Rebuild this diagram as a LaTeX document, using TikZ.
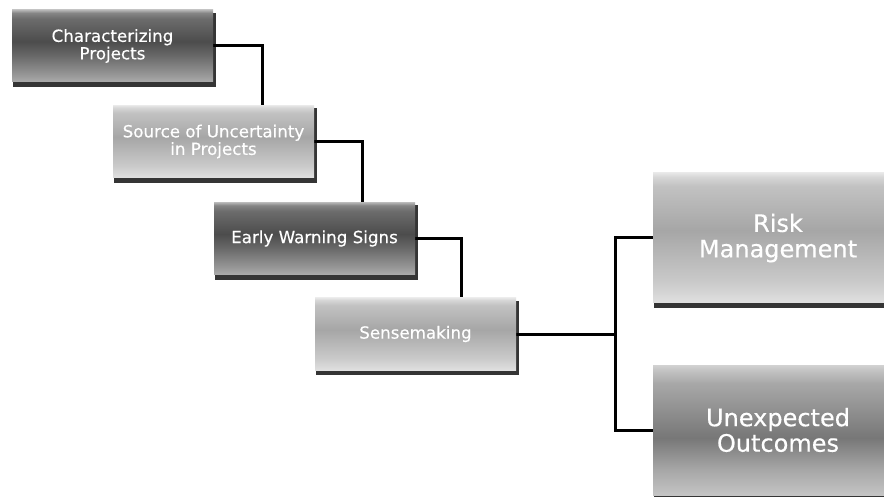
\documentclass[tikz,border=0pt]{standalone}
\usepackage{fontspec}
\newfontfamily\boxfont[FakeBold=0.4]{DejaVu Sans}
\usetikzlibrary{backgrounds}
\definecolor{bdA}{HTML}{ABABAB}
\definecolor{bdB}{HTML}{979797}
\definecolor{bdC}{HTML}{666666}
\definecolor{bdD}{HTML}{4C4C4C}
\definecolor{bdE}{HTML}{6C6C6C}
\definecolor{bdF}{HTML}{868686}
\definecolor{bdG}{HTML}{B4B4B4}
\definecolor{blA}{HTML}{E0E0E0}
\definecolor{blB}{HTML}{CACACA}
\definecolor{blC}{HTML}{A6A6A6}
\definecolor{blD}{HTML}{C2C2C2}
\definecolor{blE}{HTML}{D6D6D6}
\definecolor{blF}{HTML}{E6E6E6}
\definecolor{bmA}{HTML}{C4C4C4}
\definecolor{bmB}{HTML}{A6A6A6}
\definecolor{bmC}{HTML}{777777}
\definecolor{bmD}{HTML}{A8A8A8}
\definecolor{bmE}{HTML}{C6C6C6}
\definecolor{bmF}{HTML}{D2D2D2}
\definecolor{shadowc}{HTML}{353535}
\pgfdeclareverticalshading{darkshade}{100bp}{%
  color(0bp)=(bdA); color(25bp)=(bdA); color(30bp)=(bdB); color(44bp)=(bdC);
  color(53bp)=(bdD); color(69bp)=(bdE); color(73bp)=(bdF); color(75bp)=(bdG); color(100bp)=(bdG)}
\pgfdeclareverticalshading{lightshade}{100bp}{%
  color(0bp)=(blA); color(25bp)=(blA); color(33bp)=(blB); color(53bp)=(blC);
  color(70bp)=(blD); color(73.5bp)=(blE); color(75bp)=(blF); color(100bp)=(blF)}
\pgfdeclareverticalshading{medshade}{100bp}{%
  color(0bp)=(bmA); color(25bp)=(bmA); color(35bp)=(bmB); color(47bp)=(bmC);
  color(68bp)=(bmD); color(73.5bp)=(bmE); color(75bp)=(bmF); color(100bp)=(bmF)}
\begin{document}
\begin{tikzpicture}[x=1pt,y=-1pt,
  basebox/.style={rectangle, inner sep=0pt, text=white, align=center},
  smallbox/.style={basebox, minimum width=201pt, minimum height=72pt,
    font=\boxfont\fontsize{16.7}{17.5}\selectfont},
  bigbox/.style={basebox, minimum width=250pt, minimum height=130pt,
    font=\boxfont\fontsize{24}{25.5}\selectfont},
  darkbox/.style={shading=darkshade},
  lightbox/.style={shading=lightshade},
  medbox/.style={shading=medshade},
  conn/.style={draw=black, line width=3pt},
  shad/.style={fill=shadowc}]
\clip (0,0) rectangle (884,497);

\node[smallbox,darkbox]  (b1) at (112.5,46) {Characterizing\\Projects};
\node[smallbox,lightbox] (b2) at (213.5,141.5) {Source of Uncertainty\\in Projects};
\node[smallbox,darkbox]  (b3) at (314.5,238.5) {Early Warning Signs};
\node[smallbox,lightbox] (b4) at (415.5,334) {Sensemaking};
\node[bigbox,lightbox]   (risk) at (778,238) {Risk\\Management};
\node[bigbox,medbox]     (unexp) at (778,430) {Unexpected\\Outcomes};

\coordinate (j) at (615,334);

\begin{scope}[on background layer]
  \fill[white] (0,0) rectangle (884,497);
  \foreach \n in {b1,b2,b3,b4,risk,unexp}
    \fill[shad] ([shift={(1,3)}]\n.north west) rectangle ([shift={(3,5)}]\n.south east);
  \draw[conn] (b1.east) -| ([xshift=48.5pt]b2.north);
  \draw[conn] (b2.east) -| ([xshift=47.5pt]b3.north);
  \draw[conn] (b3.east) -| ([xshift=45.5pt]b4.north);
  \draw[conn] (b4.east) -- (j);
  \draw[conn] (risk.west) -| (j) |- (unexp.west);
\end{scope}
\end{tikzpicture}
\end{document}
